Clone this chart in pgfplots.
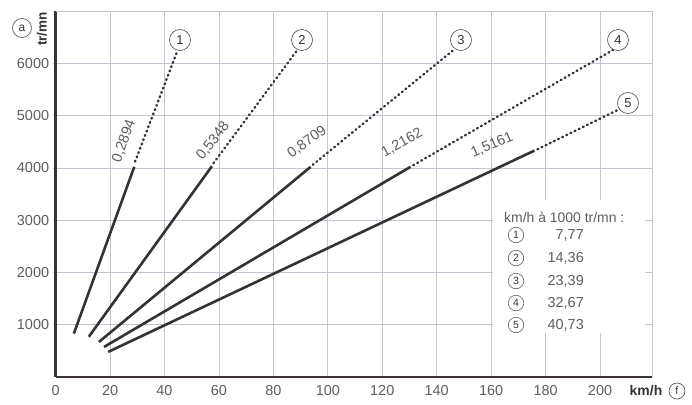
\documentclass[border=0pt]{standalone}
\usepackage{fontspec}
\setmainfont{Liberation Sans}
\usepackage{pgfplots}
\pgfplotsset{compat=1.18}
\definecolor{gridc}{HTML}{C3C6D2}
\definecolor{linec}{HTML}{333333}
\definecolor{axc}{HTML}{3A3232}
\definecolor{txtc}{HTML}{5E5E5E}
\begin{document}
\begin{tikzpicture}[x=1bp,y=1bp]
\begin{axis}[
  name=ax, at={(0,0)}, anchor=south west,
  scale only axis, width=596.4bp, height=366bp,
  xmin=0, xmax=219.1, ymin=0, ymax=7000,
  xtick={0,20,...,200}, ytick={1000,2000,...,6000},
  grid=major, major grid style={gridc, line width=0.7bp},
  axis x line*=bottom, axis y line*=left,
  axis line style={-, axc, line width=2.6bp},
  xtick style={draw=none}, ytick style={gridc, line width=0.7bp},
  tick align=outside, major tick length=3bp,
  tick label style={font=\fontsize{14.5}{16}\selectfont, text=txtc},
  xticklabel style={yshift=-2bp},
  /pgf/number format/assume math mode=true,
  /pgf/number format/1000 sep={},
  clip=false,
  dotted seg/.style={linec, line width=2.4bp, line cap=round, dash pattern=on 0.9bp off 3.7bp},
]
% rapport 1
\addplot[linec, line width=2.6bp] coordinates {(6.7,830) (28.9,4020)};
\addplot[dotted seg] coordinates {(29.2,4120) (44.4,6190)};
% rapport 2
\addplot[linec, line width=2.6bp] coordinates {(12.2,770) (57.4,4030)};
\addplot[dotted seg] coordinates {(58.0,4090) (89.6,6310)};
% rapport 3
\addplot[linec, line width=2.6bp] coordinates {(15.9,670) (93.7,4020)};
\addplot[dotted seg] coordinates {(94.5,4060) (146.3,6260)};
% rapport 4
\addplot[linec, line width=2.6bp] coordinates {(17.8,575) (130.4,4020)};
\addplot[dotted seg] coordinates {(131.4,4050) (205.6,6280)};
% rapport 5
\addplot[linec, line width=2.6bp] coordinates {(19.3,480) (175.9,4330)};
\addplot[dotted seg] coordinates {(177.0,4355) (207.4,5130)};
\end{axis}
% frame top and right
\draw[gridc, line width=0.7bp] (0,366) -- (596.4,366) -- (596.4,0);
% ratio labels
\begin{scope}[every node/.style={font=\fontsize{14.5}{16}\selectfont, text=txtc, inner sep=0}]
\node[rotate=70] at ({124-55.6},{377-141}) {0,2894};
\node[rotate=52] at ({213-55.6},{377-141}) {0,5348};
\node[rotate=36] at ({307-55.6},{377-142}) {0,8709};
\node[rotate=29] at ({402-55.6},{377-143}) {1,2162};
\node[rotate=23] at ({492-55.6},{377-145}) {1,5161};
\end{scope}
% circled numbers at line ends
\begin{scope}[every node/.style={circle, draw=txtc, line width=0.7bp, fill=white, minimum size=21bp, inner sep=0, font=\fontsize{13}{13}\selectfont, text=linec}]
\node at ({180-55.6},{377-40}) {1};
\node at ({302-55.6},{377-40}) {2};
\node at ({461-55.6},{377-40}) {3};
\node at ({618-55.6},{377-40}) {4};
\node at ({628-55.6},{377-103}) {5};
\end{scope}
% legend box
\fill[white] ({493-55.6},{377-333}) rectangle ({645-55.6},{377-200});
\node[anchor=west, inner sep=0, font=\fontsize{14}{15}\selectfont, text=txtc] at ({504-55.6},{377-217}) {km/h à 1000 tr/mn :};
\begin{scope}[every node/.style={circle, draw=txtc, line width=0.6bp, minimum size=15.5bp, inner sep=0, font=\fontsize{10.5}{10.5}\selectfont, text=linec}]
\node at ({516-55.6},{377-235}) {1};
\node at ({516-55.6},{377-258}) {2};
\node at ({516-55.6},{377-281}) {3};
\node at ({516-55.6},{377-303}) {4};
\node at ({516-55.6},{377-325}) {5};
\end{scope}
\begin{scope}[every node/.style={anchor=east, inner sep=0, font=\fontsize{14.5}{16}\selectfont, text=txtc}]
\node at ({584-55.6},{377-235}) {7,77};
\node at ({584-55.6},{377-258}) {14,36};
\node at ({584-55.6},{377-281}) {23,39};
\node at ({584-55.6},{377-303}) {32,67};
\node at ({584-55.6},{377-325}) {40,73};
\end{scope}
% axis titles
\node[rotate=90, inner sep=0, font=\bfseries\fontsize{13.5}{14}\selectfont, text=linec] at ({42-55.6},{377-29}) {tr/mn};
\node[circle, draw=txtc, line width=0.7bp, minimum size=19bp, inner sep=0, font=\fontsize{12}{12}\selectfont, text=linec] at ({22-55.6},{377-28}) {a};
\node[inner sep=0, font=\bfseries\fontsize{14}{15}\selectfont, text=linec] at ({646-55.6},{377-391}) {km/h};
\node[circle, draw=txtc, line width=0.7bp, minimum size=16bp, inner sep=0, font=\fontsize{11}{11}\selectfont, text=linec] at ({677-55.6},{377-391}) {f};
\pgfresetboundingbox
\path (-55.6,-27) rectangle (636.4,377);
\end{tikzpicture}
\end{document}
